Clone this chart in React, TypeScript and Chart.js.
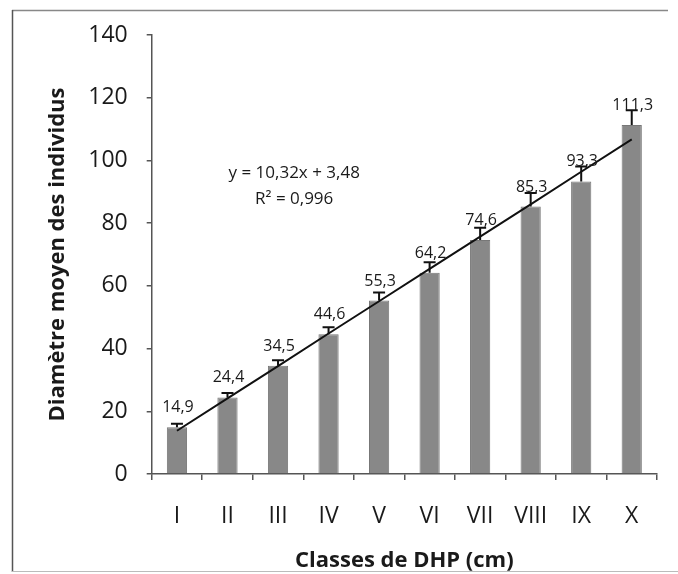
import React, { useEffect, useRef } from "react";
import { Chart, registerables } from "chart.js";

Chart.register(...registerables);

const categories = ["I", "II", "III", "IV", "V", "VI", "VII", "VIII", "IX", "X"];
const meanDiameter = [14.9, 24.4, 34.5, 44.6, 55.3, 64.2, 74.6, 85.3, 93.3, 111.3];
const errorUp = [1.1, 1.4, 1.8, 2.2, 2.6, 3.3, 3.9, 4.3, 4.8, 4.7];
const trendLine = [13.8, 24.1, 34.4, 44.8, 55.1, 65.4, 75.7, 86.0, 96.4, 106.7];
const yTicks = [0, 20, 40, 60, 80, 100, 120, 140];
const equationLines = ["y = 10,32x + 3,48", "R² = 0,996"];

const FONT = "'Open Sans', 'DejaVu Sans', sans-serif";
const fmt = (v: number) => v.toFixed(1).replace(".", ",");

const decorPlugin = {
  id: "decor",
  beforeDraw(chart: any) {
    const ctx = chart.ctx;
    ctx.save();
    ctx.lineWidth = 1.5;
    ctx.strokeStyle = "#888";
    ctx.beginPath();
    ctx.moveTo(12, 10.5);
    ctx.lineTo(668, 10.5);
    ctx.stroke();
    ctx.strokeStyle = "#555";
    ctx.beginPath();
    ctx.moveTo(12.5, 10);
    ctx.lineTo(12.5, 572);
    ctx.stroke();
    ctx.strokeStyle = "#bbb";
    ctx.lineWidth = 1;
    ctx.beginPath();
    ctx.moveTo(12, 571.5);
    ctx.lineTo(678, 571.5);
    ctx.stroke();
    ctx.restore();
  },
  afterDatasetsDraw(chart: any) {
    const ctx = chart.ctx;
    const meta = chart.getDatasetMeta(0);
    const y = chart.scales.y;
    const x = chart.scales.x;
    ctx.save();
    meta.data.forEach((bar: any, i: number) => {
      const top = y.getPixelForValue(meanDiameter[i]);
      const errTop = y.getPixelForValue(meanDiameter[i] + errorUp[i]);
      ctx.strokeStyle = "#111";
      ctx.lineWidth = 2;
      ctx.beginPath();
      ctx.moveTo(bar.x, top);
      ctx.lineTo(bar.x, errTop);
      ctx.moveTo(bar.x - 6, errTop);
      ctx.lineTo(bar.x + 6, errTop);
      ctx.stroke();
      ctx.fillStyle = "#1a1a1a";
      ctx.font = `16px ${FONT}`;
      ctx.textAlign = "center";
      ctx.textBaseline = "alphabetic";
      ctx.fillText(fmt(meanDiameter[i]), bar.x + 1, top - 15);
    });
    ctx.font = `17px ${FONT}`;
    ctx.fillStyle = "#1a1a1a";
    ctx.textAlign = "center";
    const ex = x.getPixelForValue(2.32);
    ctx.fillText(equationLines[0], ex, y.getPixelForValue(94.3));
    ctx.fillText(equationLines[1], ex, y.getPixelForValue(86.1));
    ctx.restore();
  },
};

export default function App() {
  const ref = useRef<HTMLCanvasElement>(null);
  useEffect(() => {
    const chart = new Chart(ref.current!, {
      type: "bar",
      data: {
        labels: categories,
        datasets: [
          {
            type: "bar",
            data: meanDiameter,
            backgroundColor: "#888888",
            borderColor: "#777777",
            borderWidth: 1,
            barPercentage: 0.4,
            categoryPercentage: 1,
            order: 1,
          },
          {
            type: "line",
            data: trendLine,
            borderColor: "#111",
            borderWidth: 2,
            pointRadius: 0,
            fill: false,
            order: 0,
          } as any,
        ],
      },
      options: {
        responsive: false,
        animation: false,
        devicePixelRatio: 1,
        layout: { padding: { left: 45, top: 35, right: 21, bottom: 0 } },
        plugins: { legend: { display: false }, tooltip: { enabled: false } },
        scales: {
          x: {
            type: "category",
            offset: true,
            grid: { offset: true, drawOnChartArea: false, tickLength: 6, color: "#555", lineWidth: 1.5 },
            border: { display: true, color: "#555", width: 1.5 },
            ticks: { color: "#1a1a1a", font: { family: FONT, size: 23 }, padding: 23, maxRotation: 0 },
            title: {
              display: true,
              text: "Classes de DHP (cm)",
              color: "#1a1a1a",
              font: { family: FONT, size: 22, weight: "bold" },
              padding: 0,
            },
            afterFit: (s: any) => { s.height = 100; },
          },
          y: {
            min: 0,
            max: 140,
            afterBuildTicks: (s: any) => { s.ticks = yTicks.map((v) => ({ value: v })); },
            grid: { drawOnChartArea: false, tickLength: 5, color: "#555", lineWidth: 1.5 },
            border: { display: true, color: "#555", width: 1.5 },
            ticks: { color: "#1a1a1a", font: { family: FONT, size: 23 }, padding: 19 },
            title: {
              display: true,
              text: "Diamètre moyen des individus",
              color: "#1a1a1a",
              font: { family: FONT, size: 22, weight: "bold" },
              padding: 0,
            },
            afterFit: (s: any) => { s.width = 151.7 - 45; },
          },
        },
      },
      plugins: [decorPlugin],
    });
    return () => chart.destroy();
  }, []);
  return (
    <div style={{ position: "absolute", left: 0, top: 0, width: 678, height: 574 }}>
      <canvas ref={ref} width={678} height={574} />
    </div>
  );
}
